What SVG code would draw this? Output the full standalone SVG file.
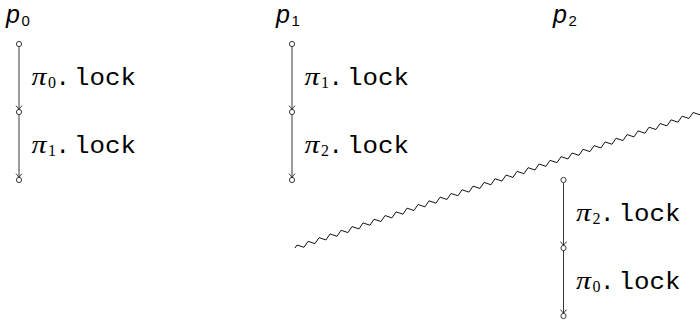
<svg xmlns="http://www.w3.org/2000/svg" width="700" height="320" viewBox="0 0 700 320">
<style>
.pl{font-family:"Liberation Sans",Arial,sans-serif;font-style:italic;font-size:25px;fill:#000}
.ps{font-family:"Liberation Sans",Arial,sans-serif;font-size:15px;fill:#000}
.pi{font-family:"Liberation Serif","DejaVu Serif",serif;font-style:italic;font-size:25px;fill:#000}
.sub{font-family:"Liberation Serif","DejaVu Serif",serif;font-size:16px;fill:#000}
.tt{font-family:"Liberation Mono","DejaVu Sans Mono",monospace;font-size:24px;fill:#000}
.st{fill:#fff;stroke:#222;stroke-width:0.9}
.ar{fill:none;stroke:#222;stroke-width:0.9}
.wave{fill:none;stroke:#111;stroke-width:0.9;stroke-linejoin:round}
</style>
<defs>
<marker id="to" markerUnits="userSpaceOnUse" markerWidth="10" markerHeight="10" viewBox="-5 -5 10 10" refX="0" refY="0" orient="auto" overflow="visible">
<path d="M-3.8,-3 Q-1.2,-0.9 0,0 Q-1.2,0.9 -3.8,3" fill="none" stroke="#222" stroke-width="0.9"/>
</marker>
</defs>

<g id="connectors">
<line class="ar" x1="19" y1="46.6" x2="19" y2="109.4" marker-end="url(#to)"/>
<line class="ar" x1="19" y1="114.6" x2="19" y2="177.4" marker-end="url(#to)"/>
<line class="ar" x1="292" y1="46.6" x2="292" y2="109.4" marker-end="url(#to)"/>
<line class="ar" x1="292" y1="114.6" x2="292" y2="177.4" marker-end="url(#to)"/>
<line class="ar" x1="563.5" y1="182.6" x2="563.5" y2="245.4" marker-end="url(#to)"/>
<line class="ar" x1="563.5" y1="250.6" x2="563.5" y2="313.4" marker-end="url(#to)"/>
</g>

<g id="p0">
<text x="6" y="23" class="pl">p</text><text x="21.5" y="25.5" class="ps">0</text>
<circle class="st" cx="19" cy="44" r="2.6"/>
<circle class="st" cx="19" cy="112" r="2.6"/>
<circle class="st" cx="19" cy="180" r="2.6"/>
<text x="31.5" y="85" class="pi" textLength="15" lengthAdjust="spacingAndGlyphs">π</text><text x="48" y="88" class="sub">0</text><text x="55.5" y="85" class="tt">.</text><text x="74" y="85" class="tt" textLength="62" lengthAdjust="spacingAndGlyphs">lock</text>
<text x="31.5" y="153" class="pi" textLength="15" lengthAdjust="spacingAndGlyphs">π</text><text x="48" y="156" class="sub">1</text><text x="55.5" y="153" class="tt">.</text><text x="74" y="153" class="tt" textLength="62" lengthAdjust="spacingAndGlyphs">lock</text>
</g>

<g id="p1">
<text x="276" y="23" class="pl">p</text><text x="291.5" y="25.5" class="ps">1</text>
<circle class="st" cx="292" cy="44" r="2.6"/>
<circle class="st" cx="292" cy="112" r="2.6"/>
<circle class="st" cx="292" cy="180" r="2.6"/>
<text x="304.5" y="85" class="pi" textLength="15" lengthAdjust="spacingAndGlyphs">π</text><text x="321" y="88" class="sub">1</text><text x="328.5" y="85" class="tt">.</text><text x="347" y="85" class="tt" textLength="62" lengthAdjust="spacingAndGlyphs">lock</text>
<text x="304.5" y="153" class="pi" textLength="15" lengthAdjust="spacingAndGlyphs">π</text><text x="321" y="156" class="sub">2</text><text x="328.5" y="153" class="tt">.</text><text x="347" y="153" class="tt" textLength="62" lengthAdjust="spacingAndGlyphs">lock</text>
</g>

<g id="p2">
<text x="553" y="23" class="pl">p</text><text x="568.5" y="25.5" class="ps">2</text>
<circle class="st" cx="563.5" cy="180" r="2.6"/>
<circle class="st" cx="563.5" cy="248" r="2.6"/>
<circle class="st" cx="563.5" cy="316" r="2.6"/>
<text x="576" y="221" class="pi" textLength="15" lengthAdjust="spacingAndGlyphs">π</text><text x="592.5" y="224" class="sub">2</text><text x="600" y="221" class="tt">.</text><text x="618.5" y="221" class="tt" textLength="62" lengthAdjust="spacingAndGlyphs">lock</text>
<text x="576" y="289" class="pi" textLength="15" lengthAdjust="spacingAndGlyphs">π</text><text x="592.5" y="292" class="sub">0</text><text x="600" y="289" class="tt">.</text><text x="618.5" y="289" class="tt" textLength="62" lengthAdjust="spacingAndGlyphs">lock</text>
</g>

<g id="cut">
<path class="wave" transform="translate(295,248) rotate(-18.5)" d="M0 0 l2.9 -2.2 l5.8 4.4 l5.8 -4.4 l5.8 4.4 l5.8 -4.4 l5.8 4.4 l5.8 -4.4 l5.8 4.4 l5.8 -4.4 l5.8 4.4 l5.8 -4.4 l5.8 4.4 l5.8 -4.4 l5.8 4.4 l5.8 -4.4 l5.8 4.4 l5.8 -4.4 l5.8 4.4 l5.8 -4.4 l5.8 4.4 l5.8 -4.4 l5.8 4.4 l5.8 -4.4 l5.8 4.4 l5.8 -4.4 l5.8 4.4 l5.8 -4.4 l5.8 4.4 l5.8 -4.4 l5.8 4.4 l5.8 -4.4 l5.8 4.4 l5.8 -4.4 l5.8 4.4 l5.8 -4.4 l5.8 4.4 l5.8 -4.4 l5.8 4.4 l5.8 -4.4 l5.8 4.4 l5.8 -4.4 l5.8 4.4 l5.8 -4.4 l5.8 4.4 l5.8 -4.4 l5.8 4.4 l5.8 -4.4 l5.8 4.4 l5.8 -4.4 l5.8 4.4 l5.8 -4.4 l5.8 4.4 l5.8 -4.4 l5.8 4.4 l5.8 -4.4 l5.8 4.4 l5.8 -4.4 l5.8 4.4 l5.8 -4.4 l5.8 4.4 l5.8 -4.4 l5.8 4.4 l5.8 -4.4 l5.8 4.4 l5.8 -4.4 l5.8 4.4 l5.8 -4.4 l5.8 4.4 l5.8 -4.4 l5.8 4.4 l5.8 -4.4 l5.8 4.4 l5.8 -4.4 l5.8 4.4 l5.8 -4.4 l5.8 4.4 l5.8 -4.4 l5.8 4.4 l5.8 -4.4"/>
</g>
</svg>
